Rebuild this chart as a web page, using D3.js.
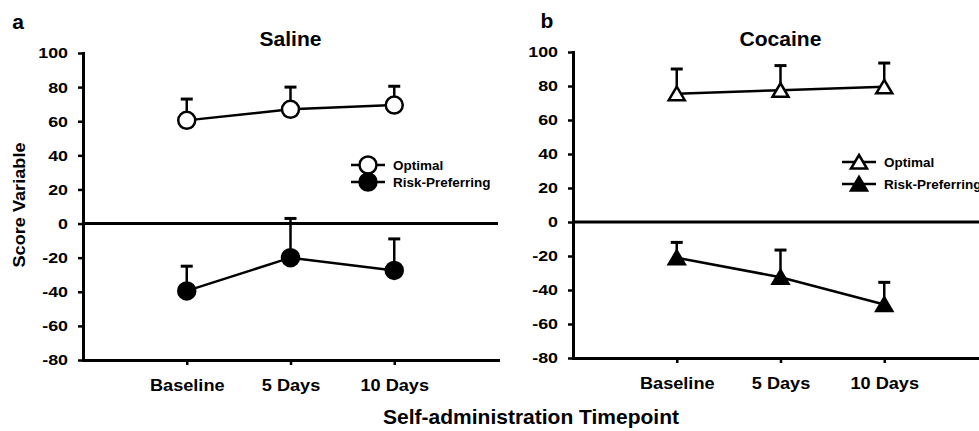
<!DOCTYPE html>
<html>
<head>
<meta charset="utf-8">
<script src="https://cdnjs.cloudflare.com/ajax/libs/d3/7.8.5/d3.min.js"></script>
<style>
body { margin: 0; background: #fff; }
svg { display: block; font-family: "Liberation Sans", Arial, sans-serif; font-weight: bold; }
</style>
</head>
<body>
<div id="chart-container"></div>
<script>
// SCORE VARIABLE CHART

// Data

var timepoints = ["Baseline", "5 Days", "10 Days"];
var yTicks = [100, 80, 60, 40, 20, 0, -20, -40, -60, -80];
var groupNames = ["Optimal", "Risk-Preferring"];

var salineOptimal = [60.5, 67, 69.5];
var salineOptimalErr = [12.5, 13, 11];
var salineRisk = [-39.5, -20, -27.5];
var salineRiskErr = [14.5, 23, 18.5];

var cocaineOptimal = [75.5, 77.5, 79.5];
var cocaineOptimalErr = [14.5, 14.5, 14];
var cocaineRisk = [-21, -32.5, -48.5];
var cocaineRiskErr = [9, 16, 13];

// Layout

var width = 979;
var height = 431;
var plotWidth = 415;

var panels = [
    { letter: "a", title: "Saline", left: 83, top: 53, bottom: 360, marker: "circle",
      series: [[salineOptimal, salineOptimalErr], [salineRisk, salineRiskErr]],
      legendX: 368, legendY: [165, 182], letterX: 18, letterY: 29 },
    { letter: "b", title: "Cocaine", left: 573, top: 52, bottom: 358, marker: "triangle",
      series: [[cocaineOptimal, cocaineOptimalErr], [cocaineRisk, cocaineRiskErr]],
      legendX: 859, legendY: [162, 184], letterX: 547, letterY: 28 }
];

var fills = ["#fff", "#000"];               // open = Optimal, filled = Risk-Preferring
var triangle = "M0,-7L8,6.5L-8,6.5Z";

var svg = d3.select("#chart-container")
    .append("svg")
    .attr("width", width)
    .attr("height", height);

// Draws a marker of the panel's type

function addMarker(g, type, fill) {
    if (type === "circle") {
        return g.append("circle").attr("r", 8.5)
            .attr("fill", fill).attr("stroke", "#000").attr("stroke-width", 2.5);
    }
    return g.append("path").attr("d", triangle)
        .attr("fill", fill).attr("stroke", "#000").attr("stroke-width", 2.5)
        .attr("stroke-linejoin", "miter");
}

panels.forEach(function(p) {

    var xScale = d3.scalePoint()
        .domain(timepoints)
        .range([p.left, p.left + plotWidth])
        .padding(1);

    var yScale = d3.scaleLinear()
        .domain([-80, 100])
        .range([p.bottom, p.top]);

    var g = svg.append("g");

    // Y axis (plain hyphen for negatives, like the original)
    var yAxis = g.append("g")
        .attr("transform", "translate(" + p.left + ",0)")
        .call(d3.axisLeft(yScale).tickValues(yTicks).tickSizeInner(5).tickSizeOuter(0)
            .tickFormat(function(d) { return String(d); }));

    // X axis
    var xAxis = g.append("g")
        .attr("transform", "translate(0," + yScale(-80) + ")")
        .call(d3.axisBottom(xScale).tickSizeInner(5).tickSizeOuter(0));

    [yAxis, xAxis].forEach(function(a) {
        a.select(".domain").attr("stroke-width", 3).attr("stroke-linecap", "square");
        a.selectAll(".tick line").attr("stroke-width", 2.5);
        a.selectAll("text").attr("fill", "#000");
        a.attr("font-family", null);
    });

    yAxis.selectAll("text")
        .attr("x", null)
        .attr("font-size", 15.5)
        .attr("transform", "translate(-15,0) scale(1.15,1)");

    xAxis.selectAll("text")
        .attr("y", 31).attr("dy", 0)
        .attr("font-size", 16.5)
        .attr("transform", "scale(1.1,1)");

    // Zero line
    g.append("line")
        .attr("x1", p.left).attr("x2", p.left + plotWidth)
        .attr("y1", yScale(0)).attr("y2", yScale(0))
        .attr("stroke", "#000").attr("stroke-width", 3);

    // Series
    p.series.forEach(function(s, k) {
        var pts = timepoints.map(function(t, i) {
            return { x: xScale(t), y: yScale(s[0][i]), top: yScale(s[0][i] + s[1][i]) };
        });

        // error bars (upper only)
        var eb = g.append("g").attr("stroke", "#000");
        pts.forEach(function(d) {
            eb.append("line").attr("x1", d.x).attr("x2", d.x)
                .attr("y1", d.y).attr("y2", d.top).attr("stroke-width", 2.5);
            eb.append("line").attr("x1", d.x - 6).attr("x2", d.x + 6)
                .attr("y1", d.top).attr("y2", d.top).attr("stroke-width", 3);
        });

        g.append("path")
            .datum(pts)
            .attr("d", d3.line().x(function(d) { return d.x; }).y(function(d) { return d.y; }))
            .attr("fill", "none").attr("stroke", "#000").attr("stroke-width", 2.5);

        pts.forEach(function(d) {
            var m = g.append("g").attr("transform", "translate(" + d.x + "," + d.y + ")");
            addMarker(m, p.marker, fills[k]);
        });

        // legend row
        var ly = p.legendY[k];
        g.append("line")
            .attr("x1", p.legendX - 17).attr("x2", p.legendX + 17)
            .attr("y1", ly).attr("y2", ly)
            .attr("stroke", "#000").attr("stroke-width", 2.5);
        addMarker(g.append("g").attr("transform", "translate(" + p.legendX + "," + ly + ")"),
            p.marker, fills[k]);
        g.append("text")
            .attr("transform", "translate(" + (p.legendX + 25) + "," + (ly + 4.5) + ") scale(1.08,1)")
            .attr("font-size", 12.5)
            .text(groupNames[k]);
    });

    // Title and panel letter
    g.append("text")
        .attr("transform", "translate(" + xScale(timepoints[1]) + ",46) scale(1.08,1)")
        .attr("text-anchor", "middle")
        .attr("font-size", 19.5)
        .text(p.title);

    g.append("text")
        .attr("x", p.letterX).attr("y", p.letterY)
        .attr("text-anchor", "middle")
        .attr("font-size", 21)
        .text(p.letter);
});

// Shared axis titles

svg.append("text")
    .attr("transform", "translate(25,205) rotate(-90) scale(1.1,1)")
    .attr("text-anchor", "middle")
    .attr("font-size", 16.5)
    .text("Score Variable");

svg.append("text")
    .attr("transform", "translate(531,424) scale(1.05,1)")
    .attr("text-anchor", "middle")
    .attr("font-size", 20)
    .text("Self-administration Timepoint");

</script>
</body>
</html>
